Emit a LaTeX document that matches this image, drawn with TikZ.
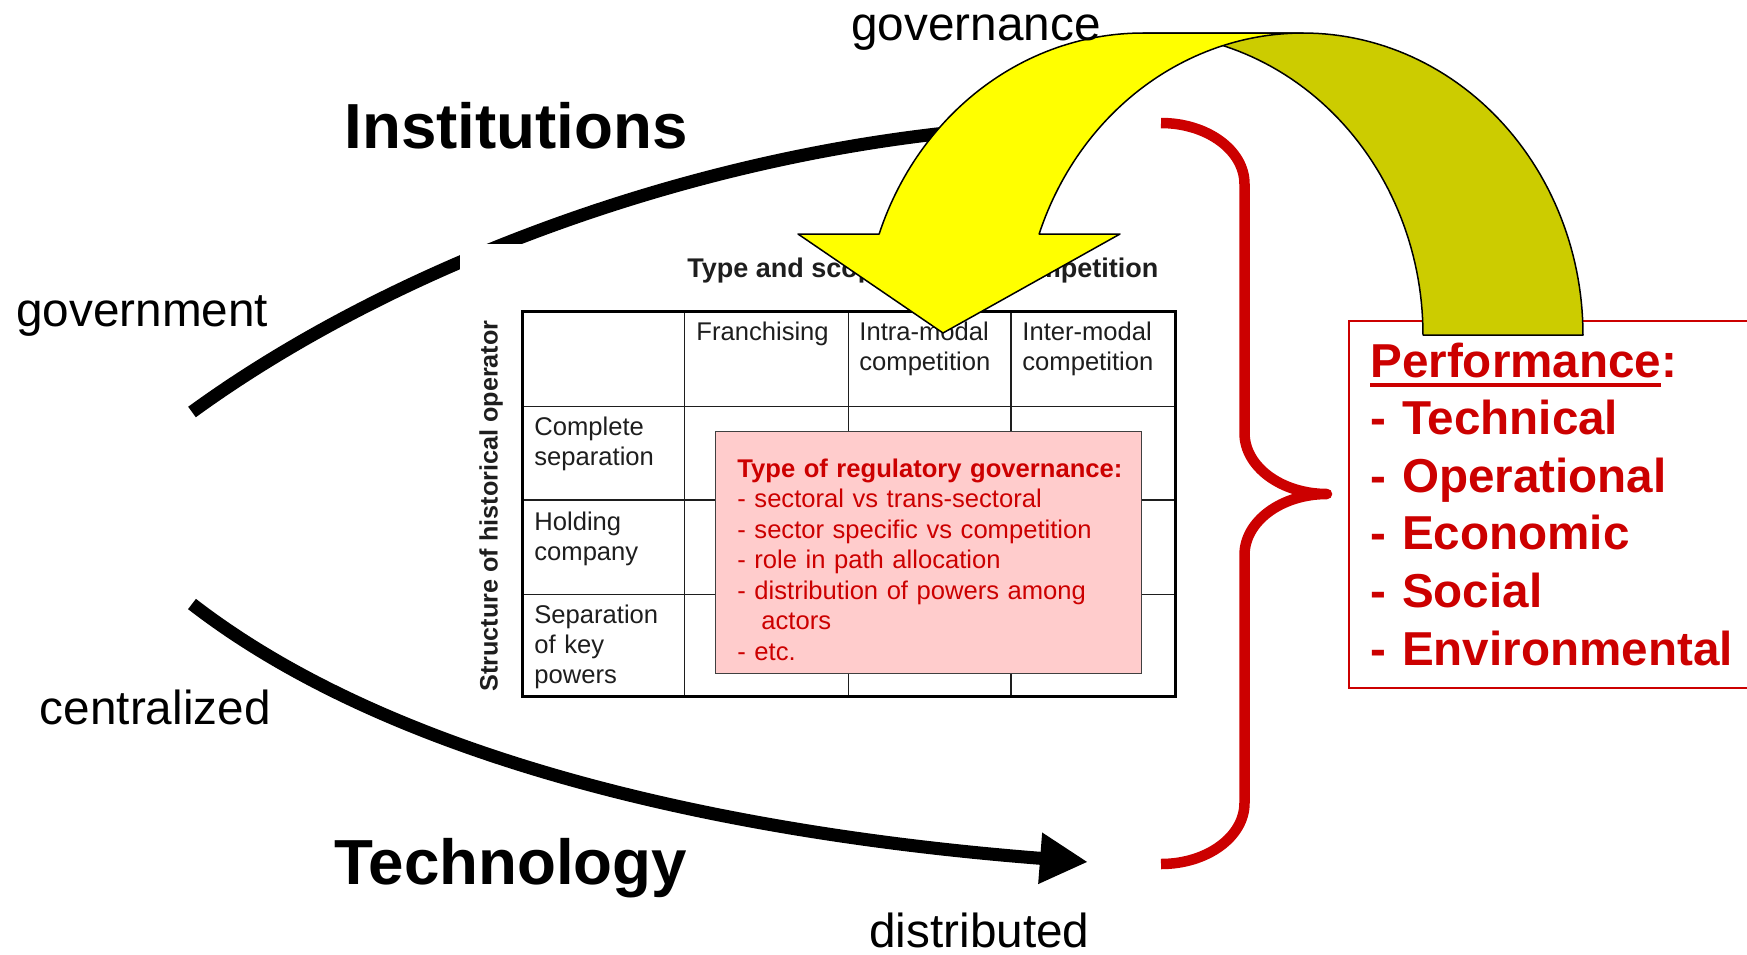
\documentclass[tikz,border=0pt]{standalone}
\usepackage{fontspec}
\setmainfont{Liberation Sans}
\usetikzlibrary{arrows.meta}
\definecolor{perfred}{RGB}{204,0,0}
\definecolor{arrowyellow}{RGB}{255,255,0}
\definecolor{arrowolive}{RGB}{204,204,0}
\definecolor{pinkfill}{RGB}{255,204,204}
\definecolor{tabtext}{RGB}{30,30,30}
\newcommand\perfunderline[1]{\setbox0\hbox{#1}\rlap{\rule[-5pt]{\wd0}{2pt}}\box0}
\begin{document}
\begin{tikzpicture}[x=0.5pt,y=-0.5pt,
  lbl/.style={anchor=base west, inner sep=0pt, font=\fontsize{23.85pt}{28pt}\selectfont},
  biglbl/.style={anchor=base west, inner sep=0pt, font=\fontsize{31.85pt}{36pt}\selectfont\bfseries},
  curve/.style={line width=6.5pt},
  celltxt/.style={anchor=base west, inner sep=0pt, align=left, text width=75pt, text=tabtext, font=\fontsize{12.8pt}{15pt}\selectfont},
  titletxt/.style={anchor=base west, inner sep=0pt, text=tabtext, font=\fontsize{13.5pt}{15pt}\selectfont\bfseries},
  vlabel/.style={inner sep=0pt, rotate=90, text=tabtext, font=\fontsize{12.6pt}{15pt}\selectfont\bfseries},
  gridthin/.style={draw=tabtext, line width=0.75pt},
  gridthick/.style={draw=black, line width=1.5pt},
  pinkbox/.style={fill=pinkfill, draw=black!75, line width=0.75pt},
  pinktxt/.style={anchor=base west, inner sep=0pt, align=left, text width=200pt, text=perfred, font=\fontsize{12.8pt}{15.25pt}\selectfont},
  perfbox/.style={draw=perfred, line width=1pt, fill=white},
  perftxt/.style={anchor=base west, inner sep=0pt, align=left, text width=200pt, text=perfred, font=\fontsize{23.8pt}{28.8pt}\selectfont\bfseries},
  brace/.style={draw=perfred, line width=5.25pt, line join=round},
  bandout/.style={draw=black, line width=0.75pt, line join=round}
]
\useasboundingbox (0,0) rectangle (1747,954);
\clip (0,0) rectangle (1747,954);

% black curves
\coordinate (instA) at (192,412);
\coordinate (instB) at (1000,128);
\coordinate (techA) at (192,604);
\coordinate (techB) at (1088,862);
\draw[curve] (instA) .. controls (394,265) and (700,150) .. (instB);
\draw[curve,-{Triangle[length=24pt,width=24pt]}] (techA) .. controls (400,765) and (740,835) .. (techB);

% table (picture) background
\fill[white] (460,244) rectangle (1190,712);
\node[titletxt] (tabtitle) at (687,277) {\hbox to 235.5pt{Type and scope of\hfill competition}};
\draw[gridthin] (684.4,311.7) -- (684.4,696) (848.6,311.7) -- (848.6,696) (1011,311.7) -- (1011,696);
\draw[gridthin] (522.7,406.7) -- (1175,406.7) (522.7,500) -- (1175,500) (522.7,594.3) -- (1175,594.3);
\draw[gridthick] (522.7,311.7) rectangle (1175,696);
\node[vlabel] (struct) at (491,506) {Structure of historical operator};
\node[celltxt] (franch) at (696,340) {Franchising};
\node[celltxt] (intra) at (859,340) {Intra-modal\\competition};
\node[celltxt] (inter) at (1022,340) {Inter-modal\\competition};
\node[celltxt] (complete) at (534,435) {Complete\\separation};
\node[celltxt] (holding) at (534,530) {Holding\\company};
\node[celltxt] (separation) at (534,623) {Separation\\of key\\powers};

% regulatory governance box
\draw[pinkbox] (715.6,431.7) rectangle (1141.4,673.3);
\node[pinktxt] (regtype) at (737,477) {\textbf{Type of regulatory governance:}\\- sectoral vs trans-sectoral\\- sector specific vs competition\\- role in path allocation\\- distribution of powers among\\\hspace*{12pt}actors\\- etc.};

% performance box
\draw[perfbox] (1349,321) rectangle (1800,688);
\node[perftxt] (perf) at (1370,377) {\perfunderline{Performance}:\\- Technical\\- Operational\\- Economic\\- Social\\- Environmental};

% red brace
\draw[brace] (1161,123) .. controls (1207.1,123) and (1244.5,150.3) .. (1244.5,184)
  -- (1244.5,433) .. controls (1244.5,466.7) and (1281.4,494) .. (1327,494)
  .. controls (1281.4,494) and (1244.5,521.3) .. (1244.5,555)
  -- (1244.5,803) .. controls (1244.5,836.7) and (1207.1,864) .. (1161,864);

% curved arrow: back (olive) part
\filldraw[fill=arrowolive, bandout]
  plot[domain=270:360, samples=60, variable=\t] ({1303+280*cos(\t)},{335+302*sin(\t)})
  -- (1423,335)
  -- plot[domain=0:90, samples=60, variable=\t] ({1143+280*cos(\t)},{335-302*sin(\t)})
  -- cycle;
% curved arrow: front (yellow) part with head
\filldraw[fill=arrowyellow, bandout]
  (798,234)
  -- plot[domain=199.54:270, samples=60, variable=\t] ({1143+280*cos(\t)},{335+302*sin(\t)})
  -- plot[domain=0:70.46, samples=60, variable=\t] ({1303-280*sin(\t)},{335-302*cos(\t)})
  -- (1120,234) -- (943,333) -- cycle;

% labels
\node[lbl] (governance) at (851,40) {governance};
\node[biglbl] (institutions) at (344,148) {Institutions};
\node[lbl] (government) at (16,326) {government};
\node[lbl] (centralized) at (39.5,724) {centralized};
\node[biglbl] (technology) at (334,884) {Technology};
\node[lbl] (distributed) at (869,947) {distributed};
\end{tikzpicture}
\end{document}
